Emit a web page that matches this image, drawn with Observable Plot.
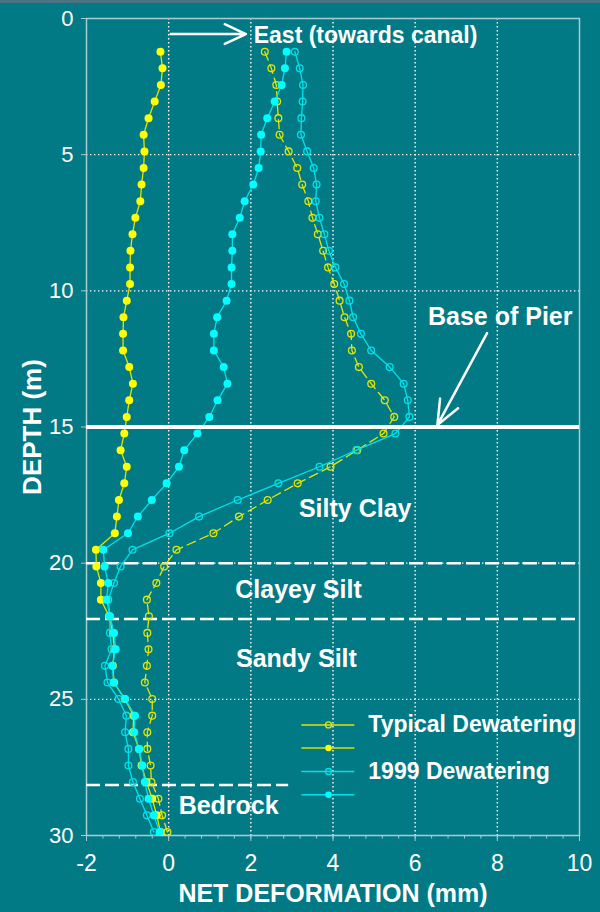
<!DOCTYPE html>
<html><head><meta charset="utf-8">
<script src="https://cdn.jsdelivr.net/npm/d3@7"></script>
<script src="https://cdn.jsdelivr.net/npm/@observablehq/plot@0.6"></script>
<style>
html,body{margin:0;padding:0;background:#027a85;overflow:hidden;}
#chart{position:relative;width:600px;height:912px;}
#strip{position:absolute;left:0;top:0;width:600px;height:3px;background:#4a7383;}
svg{display:block;}
</style></head><body>
<div id="chart"><div id="strip"></div></div>
<script>
// Depth of each reading (m)
const depth = [1.22, 1.83, 2.44, 3.05, 3.66, 4.27, 4.88, 5.49, 6.10, 6.71, 7.32, 7.92, 8.53, 9.14, 9.75, 10.36,
  10.97, 11.58, 12.19, 12.80, 13.41, 14.02, 14.63, 15.24, 15.85, 16.46, 17.07, 17.68, 18.29, 18.90, 19.51, 20.12,
  20.73, 21.34, 21.95, 22.56, 23.16, 23.77, 24.38, 24.99, 25.60, 26.21, 26.82, 27.43, 28.04, 28.65, 29.26, 29.87];
// Typical Dewatering (open markers, dashed)
const typicalOpen = [2.34, 2.50, 2.62, 2.64, 2.67, 2.70, 2.92, 3.13, 3.25, 3.40, 3.50, 3.63, 3.76, 3.88, 4.03, 4.16,
  4.28, 4.44, 4.46, 4.63, 4.93, 5.26, 5.49, 5.23, 4.59, 3.94, 3.14, 2.41, 1.71, 1.09, 0.19, -0.11,
  -0.30, -0.53, -0.48, -0.52, -0.49, -0.53, -0.58, -0.40, -0.40, -0.52, -0.52, -0.44, -0.42, -0.25, -0.16, -0.03];
// Typical Dewatering (filled markers)
const typicalFilled = [-0.20, -0.15, -0.19, -0.34, -0.49, -0.61, -0.59, -0.61, -0.66, -0.69, -0.81, -0.88, -0.93, -0.94, -0.94, -1.02,
  -1.10, -1.11, -1.11, -0.96, -0.87, -0.96, -1.02, -1.08, -1.17, -1.02, -1.08, -1.21, -1.26, -1.31, -1.77, -1.76,
  -1.65, -1.65, -1.45, -1.36, -1.32, -1.36, -1.33, -1.07, -0.85, -0.87, -0.72, -0.66, -0.54, -0.40, -0.29, -0.20];
// 1999 Dewatering (open markers)
const dew1999Open = [3.07, 3.19, 3.27, 3.26, 3.23, 3.22, 3.37, 3.53, 3.60, 3.58, 3.67, 3.79, 3.90, 4.06, 4.27, 4.40,
  4.49, 4.68, 4.93, 5.38, 5.72, 5.82, 5.86, 5.52, 4.57, 3.67, 2.67, 1.68, 0.74, 0.02, -0.88, -1.17,
  -1.33, -1.47, -1.43, -1.43, -1.39, -1.55, -1.49, -1.22, -1.03, -1.06, -0.98, -0.98, -0.87, -0.70, -0.53, -0.36];
// 1999 Dewatering (filled markers)
const dew1999Filled = [2.87, 2.83, 2.75, 2.58, 2.40, 2.25, 2.24, 2.19, 2.06, 1.85, 1.73, 1.55, 1.55, 1.53, 1.53, 1.41,
  1.18, 1.10, 1.10, 1.34, 1.43, 1.19, 0.99, 0.70, 0.38, 0.25, -0.05, -0.41, -0.75, -0.99, -1.59, -1.56,
  -1.47, -1.51, -1.43, -1.33, -1.29, -1.37, -1.34, -1.06, -0.82, -0.84, -0.72, -0.64, -0.58, -0.49, -0.36, -0.22];

const xTicks = [-2, 0, 2, 4, 6, 8, 10];
const xGrid = [0, 2, 4, 6, 8];
const yTicks = [0, 5, 10, 15, 20, 25, 30];
const yGrid = [5, 10, 20, 25];
const pierBase = [15];
const layerBounds = [20, 22.05];
const bedrockTop = [28.15];
const layerNames = ["Silty Clay", "Clayey Silt", "Sandy Silt", "Bedrock"];
const seriesNames = ["Typical Dewatering", "1999 Dewatering"];

// ---- annotation layout (data space) ----
const layerLabelPos = [[4.54, 18.0], [3.16, 20.97], [3.11, 23.53], [1.46, 28.92]];
const pierLabelPos = [8.07, 10.97];
const eastLabelPos = [2.07, 0.64];
const eastArrow = [0.05, 0.57, 1.88, 0.57];
const pierArrow = [7.75, 11.55, 6.54, 14.93];
const legendX = [3.23, 3.89, 4.52, 4.86];
const legendY = [25.94, 26.79, 27.65, 28.50];

const rows = depth.map((d, i) => ({depth: d, to: typicalOpen[i], tf: typicalFilled[i], co: dew1999Open[i], cf: dew1999Filled[i]}));
const minorTicks = d3.range(-2, 10.001, 0.4).map(v => +v.toFixed(1));

const YEL = "#ffff00", YEL2 = "#e4e600", CYN = "#00ffff", CYN2 = "#00e2ea";
const FRAME = "#a8ccd1";
const font = "'Liberation Sans', Arial, sans-serif";

const legendRows = [
  {y: legendY[0], stroke: YEL2, dash: "9,5", fill: "none"},
  {y: legendY[1], stroke: "#d8e000", dash: null, fill: YEL},
  {y: legendY[2], stroke: CYN2, dash: null, fill: "none"},
  {y: legendY[3], stroke: CYN2, dash: null, fill: CYN}
];

const marks = [
  Plot.gridX(xGrid, {stroke: "white", strokeOpacity: 1, strokeWidth: 1.4, strokeDasharray: "1.4,2.6"}),
  Plot.gridY(yGrid, {stroke: "white", strokeOpacity: 1, strokeWidth: 1.4, strokeDasharray: "1.4,2.6"}),
  Plot.frame({stroke: FRAME, strokeWidth: 1.5}),
  Plot.ruleY(layerBounds, {stroke: "white", strokeWidth: 2.5, strokeDasharray: "14,5"}),
  Plot.ruleY(bedrockTop, {x1: -2, x2: 2.92, stroke: "white", strokeWidth: 2.5, strokeDasharray: "14,5"}),
  // series
  Plot.line(rows, {x: "to", y: "depth", stroke: YEL2, strokeWidth: 1.3, strokeDasharray: "9,5"}),
  Plot.dot(rows, {x: "to", y: "depth", r: 3.4, stroke: YEL2, strokeWidth: 1.3, fill: "none"}),
  Plot.line(rows, {x: "tf", y: "depth", stroke: "#e0e400", strokeWidth: 1.3}),
  Plot.dot(rows, {x: "tf", y: "depth", r: 4, fill: YEL, stroke: "none"}),
  Plot.line(rows, {x: "co", y: "depth", stroke: CYN2, strokeWidth: 1.3}),
  Plot.dot(rows, {x: "co", y: "depth", r: 3.4, stroke: CYN2, strokeWidth: 1.3, fill: "none"}),
  Plot.line(rows, {x: "cf", y: "depth", stroke: CYN2, strokeWidth: 1.3}),
  Plot.dot(rows, {x: "cf", y: "depth", r: 4, fill: CYN, stroke: "none"}),
  Plot.ruleY(pierBase, {stroke: "white", strokeWidth: 4}),
  // axes
  Plot.axisY(yTicks, {tickSize: 5, tickPadding: 8, fontSize: 22, stroke: FRAME, fill: "white", label: null, tickFormat: d => String(d)}),
  Plot.axisX(minorTicks, {tickSize: 3.5, stroke: FRAME, tickFormat: () => "", label: null}),
  Plot.axisX(xTicks, {tickSize: 6, tickPadding: 13, fontSize: 23, stroke: FRAME, fill: "white", label: null, tickFormat: d => String(d)}),
  Plot.text(["NET DEFORMATION (mm)"], {frameAnchor: "bottom", dy: 58, fontSize: 25, fontWeight: "bold", fill: "white", lineAnchor: "middle"}),
  Plot.text(["DEPTH (m)"], {frameAnchor: "left", dx: -54, rotate: -90, textAnchor: "middle", fontSize: 26, fontWeight: "bold", fill: "white", lineAnchor: "middle"}),
  // annotations
  Plot.text(layerNames, {x: (d, i) => layerLabelPos[i][0], y: (d, i) => layerLabelPos[i][1], text: d => d, fontSize: 25, fontWeight: "bold", fill: "white", lineAnchor: "middle"}),
  Plot.text(["Base of Pier"], {x: pierLabelPos[0], y: pierLabelPos[1], fontSize: 25, fontWeight: "bold", fill: "white", lineAnchor: "middle"}),
  Plot.text(["East (towards canal)"], {x: eastLabelPos[0], y: eastLabelPos[1], textAnchor: "start", fontSize: 23, fontWeight: "bold", fill: "white", lineAnchor: "middle"}),
  Plot.arrow([eastArrow], {x1: d => d[0], y1: d => d[1], x2: d => d[2], y2: d => d[3], stroke: "white", strokeWidth: 2.5, headLength: 14, headAngle: 50}),
  Plot.arrow([pierArrow], {x1: d => d[0], y1: d => d[1], x2: d => d[2], y2: d => d[3], stroke: "white", strokeWidth: 2.5, headLength: 16, headAngle: 45}),
  // legend
  Plot.link(legendRows, {x1: legendX[0], x2: legendX[2], y1: "y", y2: "y", stroke: d => d.stroke, strokeWidth: 1.5, strokeDasharray: d => d.dash}),
  Plot.dot(legendRows, {x: legendX[1], y: "y", r: d => d.fill === "none" ? 3.4 : 4, stroke: d => d.fill === "none" ? d.stroke : "none", fill: d => d.fill === "none" ? "none" : d.fill, strokeWidth: 1.3}),
  Plot.text(seriesNames, {x: legendX[3], y: (d, i) => legendY[i * 2], text: d => d, textAnchor: "start", fontSize: 23, fontWeight: "bold", fill: "white", lineAnchor: "middle"})
];

const chart = Plot.plot({
  width: 600, height: 912,
  marginLeft: 86, marginRight: 21, marginTop: 18, marginBottom: 77,
  style: {background: "transparent", color: "white", fontFamily: font, overflow: "visible"},
  x: {domain: [-2, 10]},
  y: {domain: [0, 30], reverse: true},
  stroke: {type: "identity"}, fill: {type: "identity"},
  marks
});
document.getElementById("chart").appendChild(chart);
</script>
</body></html>
